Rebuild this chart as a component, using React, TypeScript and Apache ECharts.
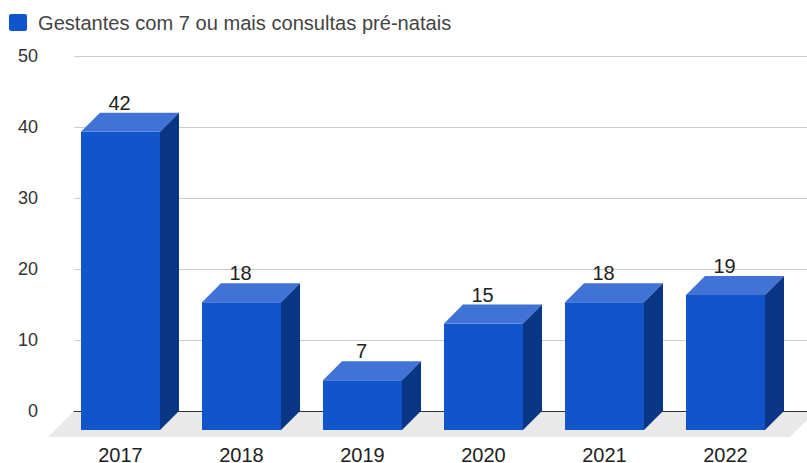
import React, { useEffect, useRef } from "react";
import * as echarts from "echarts";

const seriesName = "Gestantes com 7 ou mais consultas pré-natais";
const years = ["2017", "2018", "2019", "2020", "2021", "2022"];
const values = [42, 18, 7, 15, 18, 19];

const FONT = '"Liberation Sans", Arial, sans-serif';
const DEPTH = 19;
const HALF = 39.5;
const FRONT = "#1155cc";
const TOP = "#4173d6";
const SIDE = "#0a3785";

function renderBar(params: any, api: any) {
  const i = api.value(0);
  const v = api.value(1);
  const top = api.coord([i, v]);
  const base = api.coord([i, 0]);
  const cx = top[0];
  const l = cx - HALF;
  const r = cx + HALF;
  const yt = top[1] + DEPTH;
  const yb = base[1] + DEPTH;
  return {
    type: "group",
    children: [
      {
        type: "polygon",
        shape: { points: [[l, yt], [r, yt], [r, yb], [l, yb]] },
        style: { fill: FRONT },
      },
      {
        type: "polygon",
        shape: { points: [[l, yt], [l + DEPTH, yt - DEPTH], [r + DEPTH, yt - DEPTH], [r, yt]] },
        style: { fill: TOP },
      },
      {
        type: "polygon",
        shape: { points: [[r, yt], [r + DEPTH, yt - DEPTH], [r + DEPTH, yb - DEPTH], [r, yb]] },
        style: { fill: SIDE },
      },
      {
        type: "text",
        style: {
          text: String(v),
          x: cx - 1,
          y: top[1] - 10,
          align: "center",
          verticalAlign: "middle",
          fill: "#222222",
          font: `20px ${FONT}`,
        },
      },
    ],
  };
}

export default function App() {
  const ref = useRef<HTMLDivElement>(null);
  useEffect(() => {
    document.body.style.margin = "0";
    const chart = echarts.init(ref.current!, undefined, { renderer: "svg" });
    chart.setOption({
      animation: false,
      backgroundColor: "#ffffff",
      textStyle: { fontFamily: FONT },
      legend: {
        show: true,
        left: 9,
        top: 12.5,
        padding: 0,
        itemWidth: 18,
        itemHeight: 17,
        icon: "path://M2 0H16a2 2 0 0 1 2 2V15a2 2 0 0 1-2 2H2a2 2 0 0 1-2-2V2a2 2 0 0 1 2-2z",
        data: [seriesName],
        selectedMode: false,
        textStyle: { fontSize: 20.1, color: "#444444", fontFamily: FONT, padding: [0, 0, 0, 6] },
      },
      grid: [
        { left: 74, right: 0, top: 56, height: 355, outerBoundsMode: "none" },
        { left: 60, width: 726, top: 56, height: 355, outerBoundsMode: "none" },
      ],
      xAxis: [
        {
          type: "category",
          gridIndex: 0,
          data: years,
          axisLine: { show: true, lineStyle: { color: "#333333", width: 1 } },
          axisTick: { show: false },
          axisLabel: { show: false },
        },
        {
          type: "category",
          gridIndex: 1,
          data: years,
          axisLine: { show: false },
          axisTick: { show: false },
          axisLabel: { margin: 37, fontSize: 20, lineHeight: 14, height: 14, color: "#222222", fontFamily: FONT },
        },
      ],
      yAxis: [
        {
          type: "value",
          gridIndex: 0,
          min: 0,
          max: 50,
          interval: 10,
          axisLine: { show: false },
          axisTick: { show: false },
          axisLabel: { margin: 36, fontSize: 18, color: "#333333", fontFamily: FONT },
          splitLine: { lineStyle: { color: "#cccccc", width: 1 } },
        },
        {
          type: "value",
          gridIndex: 1,
          min: 0,
          max: 50,
          interval: 10,
          show: false,
        },
      ],
      graphic: [
        {
          type: "polygon",
          z: -1,
          shape: { points: [[48, 437], [74, 411], [816, 411], [790, 437]] },
          style: { fill: "#e9e9e9" },
        },
      ],
      series: [
        {
          type: "custom",
          name: seriesName,
          xAxisIndex: 1,
          yAxisIndex: 1,
          clip: false,
          itemStyle: { color: FRONT },
          renderItem: renderBar,
          encode: { x: 0, y: 1 },
          data: years.map((_, i) => [i, values[i]]),
        },
      ],
    });
    return () => chart.dispose();
  }, []);
  return <div ref={ref} style={{ width: 807, height: 463 }} />;
}
